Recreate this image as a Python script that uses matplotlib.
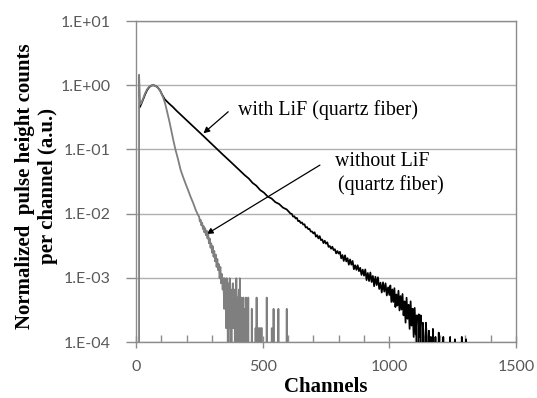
import matplotlib

matplotlib.use("Agg")
import matplotlib.pyplot as plt
import numpy as np

# --- data ------------------------------------------------------------------
# "with LiF (quartz fiber)": normalized counts per channel (black trace)
with_lif_ch = [
    14, 20, 28, 36, 44, 52, 60, 68, 76, 85, 95, 104, 114, 130, 145, 160,
    175, 190, 205, 220, 235, 250, 265, 280, 295, 310, 325, 340, 355, 370, 385,
    400, 415, 430, 445, 460, 475, 490, 505, 520, 535, 550, 565, 580, 595, 610,
    615, 620, 625, 630, 635, 640, 645, 650, 655, 660, 665, 670, 675, 680, 685,
    690, 695, 700, 705, 710, 715, 720, 725, 730, 735, 740, 745, 750, 755, 760,
    765, 770, 775, 780, 785, 790, 795, 800, 805, 810, 815, 820, 825, 830, 835,
    840, 845, 850, 855, 860, 865, 870, 875, 880, 885, 890, 895, 900, 905, 910,
    915, 920, 925, 930, 935, 940, 945, 950, 955, 960, 965, 970, 975, 980, 985,
    990, 995, 1000, 1004, 1008, 1012, 1016, 1020, 1024, 1028, 1032, 1036,
    1040, 1044, 1048, 1052, 1056, 1060, 1064, 1068, 1072, 1076, 1080, 1084,
    1088, 1092, 1096, 1100, 1104, 1108, 1112, 1116, 1120, 1124, 1128, 1132,
    1136, 1140, 1144, 1148, 1152, 1156, 1160, 1164, 1168, 1172, 1176, 1182,
    1185, 1192, 1195, 1198, 1210, 1213, 1216, 1238, 1240, 1242, 1257, 1259,
    1261, 1284, 1286, 1288, 1301, 1303, 1305,
]
with_lif_val = [
    0.45, 0.50, 0.60, 0.72, 0.84, 0.93, 0.985, 1.0, 0.98, 0.93, 0.83, 0.70,
    0.60, 0.52, 0.46, 0.40, 0.352, 0.31, 0.272, 0.24, 0.211, 0.185, 0.163,
    0.143, 0.125, 0.110, 0.097, 0.085, 0.075, 0.066, 0.058, 0.051, 0.0448,
    0.0394, 0.0352, 0.0301, 0.0272, 0.0233, 0.0212, 0.0184, 0.0172, 0.0151,
    0.0141, 0.0124, 0.0116, 0.0100,
    9.91e-3, 8.98e-3, 9.09e-3, 8.41e-3, 8.58e-3, 7.62e-3, 7.72e-3, 7.14e-3,
    7.29e-3, 6.74e-3, 6.82e-3, 6.06e-3, 6.19e-3, 5.72e-3, 5.79e-3, 5.25e-3,
    5.26e-3, 4.91e-3, 5.12e-3, 4.38e-3, 4.62e-3, 4.11e-3, 4.46e-3, 3.86e-3,
    3.95e-3, 3.47e-3, 3.78e-3, 3.40e-3, 3.57e-3, 3.03e-3, 3.13e-3, 2.84e-3,
    3.05e-3, 2.70e-3, 2.79e-3, 2.40e-3, 2.61e-3, 2.38e-3, 2.54e-3, 2.01e-3,
    2.26e-3, 1.83e-3, 2.24e-3, 1.80e-3, 2.02e-3, 1.60e-3, 1.93e-3, 1.60e-3,
    1.83e-3, 1.36e-3, 1.57e-3, 1.33e-3, 1.57e-3, 1.27e-3, 1.43e-3, 1.11e-3,
    1.34e-3, 1.08e-3, 1.35e-3, 9.2e-4, 1.19e-3, 8.9e-4, 1.21e-3, 8.6e-4,
    1.07e-3, 7.4e-4, 1.04e-3, 7.7e-4, 1.02e-3, 6.7e-4, 8.4e-4, 5.9e-4, 8.5e-4,
    6.1e-4, 8.2e-4, 5.3e-4, 7.1e-4, 5.4e-4, 7.6e-4, 4.2e-4, 6.6e-4, 4.2e-4,
    6.9e-4, 3.5e-4, 5.5e-4, 3.7e-4, 6.3e-4, 3.1e-4, 5.2e-4, 3.2e-4, 5.6e-4,
    2.6e-4, 4.3e-4, 2.0e-4, 4.9e-4, 2.3e-4, 3.8e-4, 1.6e-4, 4.3e-4, 1.8e-4,
    3.3e-4, 1.2e-4, 3.4e-4, 1.3e-4, 2.6e-4, 0, 2.7e-4, 1.2e-4, 2.6e-4, 0,
    2.0e-4, 1.2e-4, 0, 2.0e-4, 1.2e-4, 0, 1.5e-4, 0, 1.2e-4, 0, 1.6e-4, 0,
    1.2e-4, 0, 0, 1.4e-4, 0, 0, 1.2e-4, 0, 0, 1.2e-4, 0, 0, 1.1e-4, 0, 0,
    1.2e-4, 0, 0, 1.1e-4, 0,
]

# "without LiF (quartz fiber)": normalized values for the smooth part (grey trace)
without_lif_ch = [
    8, 12, 16, 20, 28, 36, 44, 52, 60, 68, 78, 88, 98, 108, 116, 124, 132,
    140, 148, 156, 166, 176, 186, 196, 206, 216, 226, 236, 246,
]
without_lif_val = [
    0, 1.45, 0.50, 0.52, 0.62, 0.75, 0.87, 0.95, 0.99, 1.0, 0.97, 0.90, 0.78,
    0.63, 0.50, 0.37, 0.27, 0.19, 0.135, 0.098, 0.070, 0.048, 0.037, 0.029,
    0.023, 0.018, 0.0145, 0.0113, 0.0093,
]
# grey tail, raw counts per channel (one count = 1.64e-4 after normalization)
without_lif_tail_ch = [
    249, 252, 255, 258, 261, 264, 267, 270, 273, 276, 279, 282, 285, 288, 291,
    294, 297, 300, 303, 306, 309, 312, 315, 318, 321, 324, 327, 330, 333, 336,
    339, 342, 345, 348, 350, 352, 354, 356, 358, 360, 362, 364, 366, 368, 370,
    372, 374, 376, 378, 380, 382, 384, 386, 388, 390, 392, 394, 396, 398, 400,
    402, 404, 406, 408, 410, 412, 414, 416, 418, 420, 422, 424, 426, 428, 430,
    432, 434, 436, 440, 443, 445, 455, 457, 459, 470, 472, 474, 476, 478, 481,
    483, 486, 489, 491, 494, 497, 500, 514, 516, 518, 534, 536, 538, 541, 543,
    545, 560, 562, 564, 593, 595, 597,
]
without_lif_tail_counts = [
    55, 46, 49, 40, 44, 35, 39, 31, 36, 28, 33, 25, 29, 21, 25, 18, 21, 15,
    19, 13, 16, 11, 14, 9, 12, 8, 10, 6, 9, 5, 7, 4, 6, 2, 6, 3, 5, 1, 6, 2,
    4, 0, 5, 2, 6, 1, 3, 0, 4, 2, 5, 1, 3, 1, 4, 0, 2, 6, 1, 3, 0, 2, 4, 0, 6,
    1, 0, 3, 2, 0, 1, 3, 0, 2, 0, 0, 3, 0, 0, 3, 0, 0, 2, 0, 0, 1, 0, 3, 0, 0,
    1, 1, 0, 1, 1, 1, 0, 0, 3, 0, 0, 1, 0, 0, 2, 0, 0, 2, 0, 0, 2, 0,
]
without_lif_count_unit = 1.64e-4

ytick_values = [1e-4, 1e-3, 1e-2, 1e-1, 1e0, 1e1]
ytick_labels = ["1.E-04", "1.E-03", "1.E-02", "1.E-01", "1.E+00", "1.E+01"]
xtick_values = [0, 500, 1000, 1500]

# --- figure ------------------------------------------------------------------
SERIF = ["Liberation Serif", "DejaVu Serif"]
SANS = ["Lato", "DejaVu Sans"]
TICK_GREY = "#595959"
FRAME_GREY = "#8c8c8c"

fig = plt.figure(figsize=(5.37, 3.98), dpi=100)
ax = fig.add_axes([0.2533, 0.1407, 0.7076, 0.8065])

grey_ch = without_lif_ch + without_lif_tail_ch
grey_val = without_lif_val + [c * without_lif_count_unit for c in without_lif_tail_counts]

ax.set_yscale("log", nonpositive="clip")
ax.plot(with_lif_ch, with_lif_val, color="black", lw=1.25, zorder=3)
ax.plot(grey_ch, grey_val, color="#7f7f7f", lw=1.3, zorder=4)

ax.set_xlim(0, 1500)
ax.set_ylim(1e-4, 1e1)

ax.set_yticks(ytick_values)
ax.set_yticklabels(ytick_labels)
ax.yaxis.set_minor_locator(matplotlib.ticker.NullLocator())
ax.set_xticks(xtick_values)
ax.set_xticklabels([str(v) for v in xtick_values])
ax.set_xticks(np.arange(100, 1500, 100), minor=True)

ax.tick_params(axis="y", which="major", direction="out", length=7, width=1.0,
               color=FRAME_GREY, labelcolor=TICK_GREY, labelsize=11.5, pad=11)
ax.tick_params(axis="x", which="major", direction="inout", length=8, width=1.0,
               color=FRAME_GREY, labelcolor=TICK_GREY, labelsize=11.5, pad=9)
ax.tick_params(axis="x", which="minor", direction="in", length=5, width=1.0,
               color=FRAME_GREY)
for label in ax.get_xticklabels() + ax.get_yticklabels():
    label.set_family(SANS)

ax.grid(axis="y", which="major", color="#b0b0b0", lw=1.0)
ax.set_axisbelow(True)
for spine in ax.spines.values():
    spine.set_color(FRAME_GREY)
    spine.set_linewidth(1.0)

ax.set_xlabel("Channels", family=SERIF, fontsize=15, fontweight="bold", labelpad=2)
fig.text(0.068, 0.532, "Normalized  pulse height counts\nper channel (a.u.)",
         rotation=90, ha="center", va="center", multialignment="center",
         family=SERIF, fontsize=15, fontweight="bold", linespacing=1.25)

# annotations
arrow = dict(arrowstyle="-|>", color="black", lw=0.9, mutation_scale=9,
             shrinkA=0, shrinkB=0)
ax.annotate("", xy=(266, 0.178), xytext=(364, 0.386), arrowprops=arrow)
ax.text(403, 0.41, "with LiF (quartz fiber)", family=SERIF, fontsize=14.3,
        ha="left", va="center")
ax.annotate("", xy=(279, 0.0048), xytext=(726, 0.057), arrowprops=arrow)
ax.text(786, 0.0637, "without LiF", family=SERIF, fontsize=14.3,
        ha="left", va="center")
ax.text(797, 0.0279, "(quartz fiber)", family=SERIF, fontsize=14.3,
        ha="left", va="center")

fig.savefig("out.png", dpi=100)
